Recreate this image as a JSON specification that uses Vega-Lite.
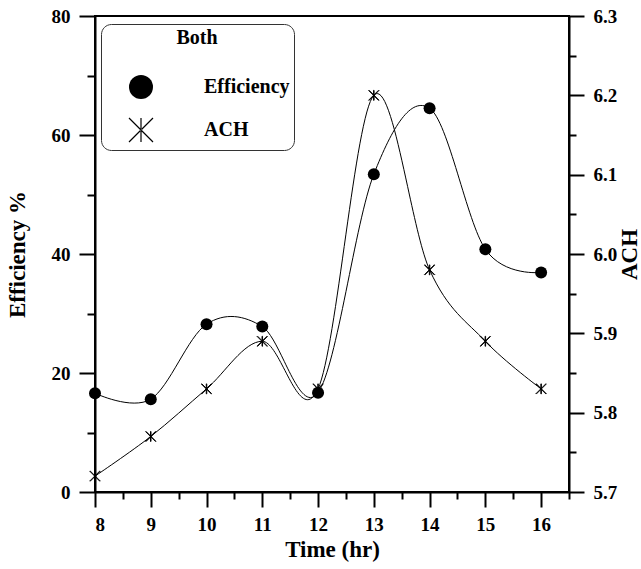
{
  "$schema": "https://vega.github.io/schema/vega-lite/v6.json",
  "width": 474,
  "height": 476,
  "padding": {"left": 6, "top": 7, "right": 0, "bottom": 4},
  "config": {
    "aria": false,
    "view": {"stroke": "black", "strokeWidth": 2},
    "axis": {
      "labelFont": "Liberation Serif",
      "labelFontSize": 19,
      "labelFontWeight": "bold",
      "labelColor": "black",
      "titleFont": "Liberation Serif",
      "titleFontSize": 23,
      "titleFontWeight": "bold",
      "titleColor": "black",
      "domainColor": "black",
      "domainWidth": 2,
      "tickColor": "black",
      "tickWidth": 2,
      "grid": false
    }
  },
  "data": {
    "values": [
      {"time": 8, "efficiency": 16.6, "ach": 5.72},
      {"time": 9, "efficiency": 15.6, "ach": 5.77},
      {"time": 10, "efficiency": 28.2, "ach": 5.83},
      {"time": 11, "efficiency": 27.8, "ach": 5.89},
      {"time": 12, "efficiency": 16.7, "ach": 5.83},
      {"time": 13, "efficiency": 53.4, "ach": 6.2},
      {"time": 14, "efficiency": 64.5, "ach": 5.98},
      {"time": 15, "efficiency": 40.8, "ach": 5.89},
      {"time": 16, "efficiency": 36.9, "ach": 5.83}
    ]
  },
  "layer": [
    {
      "encoding": {
        "x": {
          "field": "time",
          "type": "quantitative",
          "scale": {"domain": [8, 16.5], "nice": false, "zero": false},
          "axis": {
            "orient": "bottom",
            "title": "Time (hr)",
            "values": [8, 9, 10, 11, 12, 13, 14, 15, 16],
            "tickSize": 15,
            "labelPadding": 8,
            "titlePadding": 4
          }
        }
      },
      "layer": [
        {
          "mark": {"type": "line", "interpolate": "cardinal", "color": "black", "strokeWidth": 1},
          "encoding": {
            "y": {
              "field": "efficiency",
              "type": "quantitative",
              "scale": {"domain": [0, 80], "nice": false},
              "axis": {
                "orient": "left",
                "title": "Efficiency %",
                "values": [0, 20, 40, 60, 80],
                "tickSize": 16,
                "labelPadding": 9,
                "titlePadding": 22
              }
            }
          }
        },
        {
          "mark": {"type": "point", "filled": true, "size": 144, "color": "black", "opacity": 1},
          "encoding": {
            "y": {
              "field": "efficiency",
              "type": "quantitative",
              "axis": {
                "orient": "left",
                "title": null,
                "labels": false,
                "domain": false,
                "values": [10, 30, 50, 70],
                "tickSize": 8
              }
            },
            "shape": {
              "datum": "Efficiency",
              "scale": {
                "domain": ["Efficiency", "ACH"],
                "range": ["circle", "M-0.05,-1L0.05,-1L0.05,1L-0.05,1Z M-0.965,-1.035L1.035,0.965L0.965,1.035L-1.035,-0.965Z M-0.965,1.035L1.035,-0.965L0.965,-1.035L-1.035,0.965Z"]
              },
              "legend": {
                "title": "Both",
                "orient": "none",
                "legendX": 6,
                "legendY": 8,
                "titleAnchor": "middle",
                "titleFont": "Liberation Serif",
                "titleFontSize": 20,
                "titleFontWeight": "bold",
                "titleColor": "black",
                "titlePadding": 26,
                "labelFont": "Liberation Serif",
                "labelFontSize": 20,
                "labelFontWeight": "bold",
                "labelColor": "black",
                "labelOffset": 50,
                "symbolSize": 576,
                "symbolOffset": 23,
                "rowPadding": 12,
                "padding": 4,
                "strokeColor": "#333333",
                "fillColor": "white",
                "cornerRadius": 10
              }
            }
          }
        }
      ],
      "resolve": {"axis": {"y": "independent"}}
    },
    {
      "encoding": {
        "x": {
          "field": "time",
          "type": "quantitative",
          "axis": {
            "orient": "bottom",
            "title": null,
            "labels": false,
            "domain": false,
            "values": [8.5, 9.5, 10.5, 11.5, 12.5, 13.5, 14.5, 15.5, 16.5],
            "tickSize": 7
          }
        }
      },
      "layer": [
        {
          "mark": {"type": "line", "interpolate": "cardinal", "color": "black", "strokeWidth": 1},
          "encoding": {
            "y": {
              "field": "ach",
              "type": "quantitative",
              "scale": {"domain": [5.7, 6.3], "nice": false, "zero": false},
              "axis": {
                "orient": "right",
                "title": "ACH",
                "titleAngle": 270,
                "titleBaseline": "top",
                "values": [5.7, 5.8, 5.9, 6.0, 6.1, 6.2, 6.3],
                "format": ".1f",
                "tickSize": 15,
                "labelPadding": 9,
                "titlePadding": 2
              }
            }
          }
        },
        {
          "mark": {"type": "point", "filled": false, "size": 100, "color": "black", "strokeWidth": 1, "opacity": 1},
          "encoding": {
            "y": {
              "field": "ach",
              "type": "quantitative",
              "axis": {
                "orient": "right",
                "title": null,
                "labels": false,
                "domain": false,
                "values": [5.75, 5.85, 5.95, 6.05, 6.15, 6.25],
                "tickSize": 7
              }
            },
            "shape": {"datum": "ACH"}
          }
        }
      ],
      "resolve": {"axis": {"y": "independent"}}
    }
  ],
  "resolve": {"scale": {"y": "independent"}, "axis": {"y": "independent", "x": "independent"}}
}
